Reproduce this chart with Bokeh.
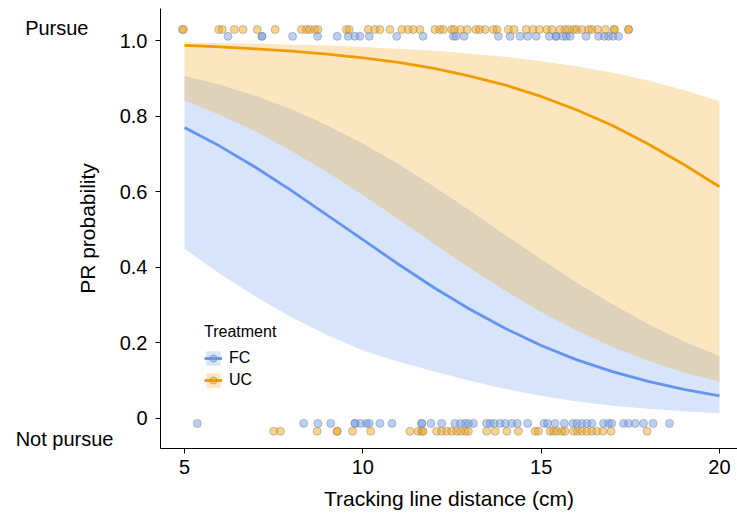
from bokeh.plotting import figure
from bokeh.models import Range1d, Legend, LegendItem, LinearAxis, FixedTicker
from bokeh.embed import file_html
from bokeh.resources import INLINE

# ---- data ----
distance = [5, 6, 7, 8, 9, 10, 11, 12, 13, 14, 15, 16, 17, 18, 19, 20]

fc_fit = [0.770, 0.720, 0.664, 0.603, 0.538, 0.473, 0.408, 0.346, 0.289, 0.238, 0.193, 0.155, 0.124, 0.098, 0.077, 0.060]
fc_upper = [0.907, 0.883, 0.853, 0.818, 0.776, 0.727, 0.673, 0.613, 0.550, 0.485, 0.421, 0.359, 0.302, 0.250, 0.204, 0.165]
fc_lower = [0.449, 0.382, 0.322, 0.268, 0.221, 0.180, 0.150, 0.124, 0.100, 0.078, 0.060, 0.045, 0.034, 0.026, 0.019, 0.014]

uc_fit = [0.987, 0.983, 0.978, 0.972, 0.964, 0.954, 0.942, 0.926, 0.906, 0.882, 0.852, 0.816, 0.775, 0.726, 0.672, 0.613]
uc_upper = [0.995, 0.993, 0.992, 0.989, 0.987, 0.983, 0.978, 0.973, 0.965, 0.957, 0.945, 0.932, 0.915, 0.894, 0.869, 0.839]
uc_lower = [0.841, 0.803, 0.759, 0.708, 0.652, 0.591, 0.527, 0.462, 0.398, 0.338, 0.282, 0.233, 0.189, 0.153, 0.122, 0.097]

fc_pursue_x = [6.22, 7.17, 7.17, 8.03, 8.73, 9.28, 9.59, 9.78, 9.92, 10.18, 10.95, 11.69, 12.54, 12.61,
               12.84, 13.80, 14.13, 14.41, 14.62, 14.86, 15.23, 15.42, 15.42, 15.61, 15.70, 15.81,
               16.26, 16.61, 16.77, 16.89, 17.01, 17.17]
uc_pursue_x = [4.94, 4.97, 5.96, 6.06, 6.40, 6.64, 7.04, 7.54, 8.28, 8.42, 8.51, 8.65, 8.74, 9.54,
               9.62, 10.15, 10.34, 10.48, 10.76, 11.09, 11.27, 11.41, 11.60, 12.02, 12.16, 12.26,
               12.49, 12.56, 12.74, 12.93, 13.17, 13.27, 13.43, 13.66, 13.76, 14.08, 14.24, 14.58,
               14.77, 14.95, 15.16, 15.30, 15.53, 15.67, 15.77, 15.91, 16.00, 16.14, 16.33, 16.42,
               16.58, 16.80, 17.05, 17.05, 17.45, 17.45]
fc_notpursue_x = [5.36, 8.34, 8.74, 9.10, 9.78, 9.78, 9.94, 10.10, 10.18, 10.48, 10.82, 11.65, 11.65,
                  11.91, 12.21, 12.58, 12.74, 12.87, 12.96, 13.10, 13.47, 13.57, 13.68, 13.85, 13.99,
                  14.18, 14.33, 14.62, 15.08, 15.18, 15.39, 15.65, 15.89, 16.00, 16.14, 16.28, 16.42,
                  16.75, 16.89, 16.98, 17.31, 17.45, 17.64, 17.87, 18.14, 18.60]
uc_notpursue_x = [7.50, 7.69, 8.72, 9.28, 9.28, 9.71, 10.22, 11.32, 11.55, 11.65, 11.69, 12.07, 12.21,
                  12.35, 12.49, 12.63, 12.74, 12.87, 12.96, 13.47, 13.71, 14.04, 14.36, 14.83, 14.92,
                  15.25, 15.35, 15.44, 15.58, 15.67, 15.91, 16.02, 16.14, 16.28, 16.42, 16.56, 16.73,
                  16.96, 17.97]

x_ticks = [5, 10, 15, 20]
y_ticks = [0, 0.2, 0.4, 0.6, 0.8, 1.0]
y_tick_labels = ["0", "0.2", "0.4", "0.6", "0.8", "1.0"]
pursue_tick, pursue_label = 1.032, "Pursue"
notpursue_tick, notpursue_label = -0.053, "Not pursue"

FC_COLOR = "#6495ED"
UC_COLOR = "#F29B00"
FONT = "Liberation Sans"

p = figure(width=737, height=514, output_backend="svg", toolbar_location=None,
           x_range=Range1d(4.327, 20.505), y_range=Range1d(-0.0794, 1.0847),
           min_border_left=160, min_border_right=0, min_border_top=8, min_border_bottom=66)
p.outline_line_color = None
p.grid.visible = False
p.background_fill_color = "white"

for ax in (p.xaxis[0], p.yaxis[0]):
    ax.major_tick_in = 0
    ax.major_tick_out = 5
    ax.minor_tick_line_color = None
    ax.axis_line_color = "black"
    ax.major_tick_line_color = "black"
    ax.major_label_text_font = FONT
    ax.major_label_text_font_size = "20px"
    ax.major_label_text_color = "black"
    ax.axis_label_text_font = FONT
    ax.axis_label_text_font_size = "21px"
    ax.axis_label_text_font_style = "normal"
    ax.axis_label_text_color = "black"

p.xaxis.ticker = x_ticks
p.yaxis.ticker = y_ticks
p.yaxis.major_label_overrides = {t: s for t, s in zip(y_ticks, y_tick_labels)}
p.xaxis.axis_label = "Tracking line distance (cm)"
p.yaxis.axis_label = "PR probability"
p.xaxis.major_label_standoff = 6
p.yaxis.major_label_standoff = 8
p.xaxis.axis_label_standoff = 10
p.yaxis.axis_label_standoff = 18


def outcome_axis(tick, label, standoff):
    ax = LinearAxis(ticker=FixedTicker(ticks=[tick]), major_label_overrides={tick: label})
    ax.axis_line_color = None
    ax.major_tick_line_color = None
    ax.minor_tick_line_color = None
    ax.major_tick_in = 0
    ax.major_tick_out = 0
    ax.major_label_standoff = standoff
    ax.major_label_text_font = FONT
    ax.major_label_text_font_size = "20px"
    ax.major_label_text_color = "black"
    return ax


p.add_layout(outcome_axis(pursue_tick, pursue_label, -16), "left")
p.add_layout(outcome_axis(notpursue_tick, notpursue_label, -91), "left")

fc_band = p.varea(x=distance, y1=fc_lower, y2=fc_upper, fill_color=FC_COLOR, fill_alpha=0.26)
uc_band = p.varea(x=distance, y1=uc_lower, y2=uc_upper, fill_color=UC_COLOR, fill_alpha=0.25)
fc_line = p.line(x=distance, y=fc_fit, line_color=FC_COLOR, line_width=2.8)
uc_line = p.line(x=distance, y=uc_fit, line_color=UC_COLOR, line_width=2.8)

rows = {"FC": (1.011, -0.013), "UC": (1.029, -0.034)}
fc_x = fc_pursue_x + fc_notpursue_x
fc_y = [rows["FC"][0]] * len(fc_pursue_x) + [rows["FC"][1]] * len(fc_notpursue_x)
uc_x = uc_pursue_x + uc_notpursue_x
uc_y = [rows["UC"][0]] * len(uc_pursue_x) + [rows["UC"][1]] * len(uc_notpursue_x)

fc_pts = p.scatter(x=fc_x, y=fc_y, size=8, fill_color=FC_COLOR, fill_alpha=0.45,
                   line_color="#808080", line_alpha=0.45, line_width=1)
uc_pts = p.scatter(x=uc_x, y=uc_y, size=8, fill_color=UC_COLOR, fill_alpha=0.45,
                   line_color="#808080", line_alpha=0.45, line_width=1)

legend = Legend(items=[LegendItem(label="FC", renderers=[fc_band, fc_line, fc_pts]),
                       LegendItem(label="UC", renderers=[uc_band, uc_line, uc_pts])],
                title="Treatment", location=(44, 59), orientation="vertical")
legend.background_fill_alpha = 0
legend.border_line_alpha = 0
legend.padding = 0
legend.margin = 0
legend.spacing = 4
legend.glyph_width = 18
legend.glyph_height = 18
legend.label_standoff = 7
legend.label_text_font = FONT
legend.label_text_font_size = "16px"
legend.label_text_color = "black"
legend.title_text_font = FONT
legend.title_text_font_size = "16px"
legend.title_text_font_style = "normal"
legend.title_text_color = "black"
legend.title_standoff = 8
p.add_layout(legend)

open("out.html", "w").write(file_html(p, INLINE))
